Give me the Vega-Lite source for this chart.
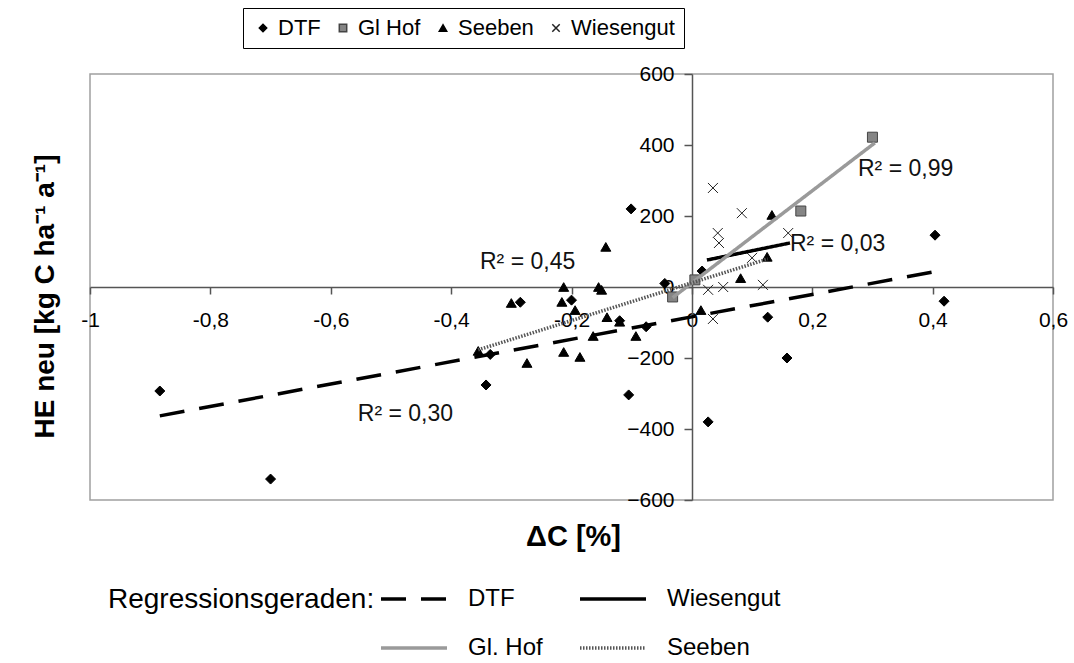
{
  "$schema": "https://vega.github.io/schema/vega-lite/v6.json",
  "width": 963,
  "height": 426,
  "autosize": {"type": "none"},
  "padding": {"left": 90, "top": 74, "right": 21, "bottom": 163},
  "background": "white",
  "config": {
    "font": "Liberation Sans",
    "view": {"stroke": "#a0a0a0", "strokeWidth": 1.5},
    "axis": {"grid": false}
  },
  "datasets": {
    "points": [
      {"x": -0.884, "y": -293, "s": "DTF"},
      {"x": -0.70, "y": -541, "s": "DTF"},
      {"x": -0.342, "y": -276, "s": "DTF"},
      {"x": -0.335, "y": -190, "s": "DTF"},
      {"x": -0.105, "y": -304, "s": "DTF"},
      {"x": 0.027, "y": -380, "s": "DTF"},
      {"x": 0.158, "y": -200, "s": "DTF"},
      {"x": 0.126, "y": -85, "s": "DTF"},
      {"x": 0.419, "y": -40, "s": "DTF"},
      {"x": 0.404, "y": 146, "s": "DTF"},
      {"x": -0.101, "y": 220, "s": "DTF"},
      {"x": 0.017, "y": 45, "s": "DTF"},
      {"x": -0.045, "y": 10, "s": "DTF"},
      {"x": -0.076, "y": -112, "s": "DTF"},
      {"x": -0.12, "y": -95, "s": "DTF"},
      {"x": -0.285, "y": -43, "s": "DTF"},
      {"x": -0.2, "y": -37, "s": "DTF"},
      {"x": 0.30, "y": 422, "s": "Gl Hof"},
      {"x": 0.181, "y": 214, "s": "Gl Hof"},
      {"x": -0.032, "y": -28, "s": "Gl Hof"},
      {"x": 0.005, "y": 20, "s": "Gl Hof"},
      {"x": -0.355, "y": -180, "s": "Seeben"},
      {"x": -0.30, "y": -45, "s": "Seeben"},
      {"x": -0.274, "y": -214, "s": "Seeben"},
      {"x": -0.213, "y": -183, "s": "Seeben"},
      {"x": -0.186, "y": -197, "s": "Seeben"},
      {"x": -0.164, "y": -138, "s": "Seeben"},
      {"x": -0.141, "y": -85, "s": "Seeben"},
      {"x": -0.12, "y": -98, "s": "Seeben"},
      {"x": -0.093, "y": -138, "s": "Seeben"},
      {"x": -0.213, "y": 0, "s": "Seeben"},
      {"x": -0.216, "y": -42, "s": "Seeben"},
      {"x": -0.194, "y": -65, "s": "Seeben"},
      {"x": -0.155, "y": 0, "s": "Seeben"},
      {"x": -0.15, "y": -8, "s": "Seeben"},
      {"x": -0.143, "y": 113, "s": "Seeben"},
      {"x": 0.133, "y": 203, "s": "Seeben"},
      {"x": 0.081, "y": 25, "s": "Seeben"},
      {"x": 0.015, "y": -65, "s": "Seeben"},
      {"x": 0.125, "y": 85, "s": "Seeben"},
      {"x": 0.035, "y": 279, "s": "Wiesengut"},
      {"x": 0.083, "y": 208, "s": "Wiesengut"},
      {"x": 0.043, "y": 152, "s": "Wiesengut"},
      {"x": 0.045, "y": 124, "s": "Wiesengut"},
      {"x": 0.16, "y": 152, "s": "Wiesengut"},
      {"x": 0.027, "y": -8, "s": "Wiesengut"},
      {"x": 0.052, "y": 0, "s": "Wiesengut"},
      {"x": 0.118, "y": 6, "s": "Wiesengut"},
      {"x": 0.035, "y": -90, "s": "Wiesengut"},
      {"x": 0.10, "y": 82, "s": "Wiesengut"}
    ],
    "lines": [
      {"x": -0.884, "y": -363, "reg": "DTF"},
      {"x": 0.409, "y": 45, "reg": "DTF"},
      {"x": 0.025, "y": 76, "reg": "Wiesengut"},
      {"x": 0.163, "y": 124, "reg": "Wiesengut"},
      {"x": -0.032, "y": -30, "reg": "Gl. Hof"},
      {"x": 0.304, "y": 406, "reg": "Gl. Hof"},
      {"x": -0.355, "y": -177, "reg": "Seeben"},
      {"x": 0.126, "y": 79, "reg": "Seeben"}
    ],
    "labels": [
      {"x": -0.352, "y": 70, "t": "R² = 0,45"},
      {"x": 0.276, "y": 332, "t": "R² = 0,99"},
      {"x": 0.163, "y": 121, "t": "R² = 0,03"},
      {"x": -0.555, "y": -358, "t": "R² = 0,30"}
    ]
  },
  "layer": [
    {
      "data": {"name": "points"},
      "mark": {"type": "point", "strokeWidth": 1, "opacity": 1, "size": 100},
      "encoding": {
        "x": {
          "field": "x", "type": "quantitative",
          "scale": {"domain": [-1, 0.6], "nice": false, "zero": false},
          "axis": {
            "title": "ΔC [%]",
            "offset": -213,
            "values": [-1, -0.8, -0.6, -0.4, -0.2, 0, 0.2, 0.4, 0.6],
            "labelExpr": "replace('' + datum.value, '.', ',')",
            "labelFontSize": 21, "labelColor": "#000",
            "labelPadding": 15, "labelFlush": false, "labelOverlap": false,
            "domainColor": "#555", "domainWidth": 1.5,
            "tickColor": "#555", "tickWidth": 1.5, "tickSize": 7,
            "titleFontSize": 29, "titleFontWeight": "bold", "titleColor": "#000",
            "titleX": 483, "titleY": 249, "titleBaseline": "middle", "titleAlign": "center"
          }
        },
        "y": {
          "field": "y", "type": "quantitative",
          "scale": {"domain": [-600, 600], "nice": false, "zero": false},
          "axis": {
            "title": "HE neu [kg C ha⁻¹ a⁻¹]",
            "offset": -602,
            "values": [-600, -400, -200, 0, 200, 400, 600],
            "labelFontSize": 21, "labelColor": "#000",
            "labelPadding": 10, "labelFlush": false, "labelOverlap": false,
            "domainColor": "#555", "domainWidth": 1.5,
            "tickColor": "#555", "tickWidth": 1.5, "tickSize": 8,
            "titleFontSize": 28, "titleFontWeight": "bold", "titleColor": "#000",
            "titleX": -647, "titleY": 222, "titleAngle": -90,
            "titleBaseline": "middle", "titleAlign": "center"
          }
        },
        "shape": {
          "field": "s", "type": "nominal",
          "scale": {"domain": ["DTF", "Gl Hof", "Seeben", "Wiesengut"], "range": ["diamond", "square", "triangle-up", "M-1,-1L1,1M-1,1L1,-1"]},
          "legend": {
            "orient": "none", "legendX": 153, "legendY": -66,
            "direction": "horizontal", "columns": 4, "title": null,
            "strokeColor": "#000", "fillColor": "white", "padding": 9,
            "labelFontSize": 22, "labelColor": "#000", "symbolSize": 55,
            "columnPadding": 11, "labelOffset": 4
          }
        },
        "fill": {
          "field": "s", "type": "nominal",
          "scale": {"domain": ["DTF", "Gl Hof", "Seeben", "Wiesengut"], "range": ["#000000", "#858585", "#000000", "transparent"]},
          "legend": {
            "orient": "none", "legendX": 153, "legendY": -66,
            "direction": "horizontal", "columns": 4, "title": null,
            "strokeColor": "#000", "fillColor": "white", "padding": 9,
            "labelFontSize": 22, "labelColor": "#000", "symbolSize": 55,
            "columnPadding": 11, "labelOffset": 4
          }
        },
        "stroke": {
          "field": "s", "type": "nominal",
          "scale": {"domain": ["DTF", "Gl Hof", "Seeben", "Wiesengut"], "range": ["#000000", "#444444", "#000000", "#222222"]},
          "legend": {
            "orient": "none", "legendX": 153, "legendY": -66,
            "direction": "horizontal", "columns": 4, "title": null,
            "strokeColor": "#000", "fillColor": "white", "padding": 9,
            "labelFontSize": 22, "labelColor": "#000", "symbolSize": 55,
            "columnPadding": 11, "labelOffset": 4
          }
        }
      }
    },
    {
      "data": {"name": "lines"},
      "mark": {"type": "line", "strokeWidth": 3.5},
      "encoding": {
        "x": {"field": "x", "type": "quantitative"},
        "y": {"field": "y", "type": "quantitative"},
        "color": {
          "field": "reg", "type": "nominal",
          "scale": {"domain": ["DTF", "Wiesengut", "Gl. Hof", "Seeben"], "range": ["#000000", "#000000", "#9a9a9a", "#555555"]},
          "legend": {
            "title": "Regressionsgeraden:", "orient": "none", "legendX": 18, "legendY": 512,
            "direction": "horizontal", "columns": 2, "titleOrient": "left",
            "titleAnchor": "start", "titleBaseline": "top",
            "titleFontSize": 28, "titleFontWeight": "normal", "titleColor": "#000", "titlePadding": 26,
            "titleLimit": 400, "labelLimit": 300,
            "labelFontSize": 24, "labelColor": "#000", "symbolType": "M-3,0L3,0",
            "symbolSize": 484, "symbolStrokeWidth": 3.5, "rowPadding": 24, "columnPadding": 30, "labelOffset": 41
          }
        },
        "strokeDash": {
          "field": "reg", "type": "nominal",
          "scale": {"domain": ["DTF", "Wiesengut", "Gl. Hof", "Seeben"], "range": [[25, 15], [1, 0], [1, 0], [1.5, 1.5]]},
          "legend": {
            "title": "Regressionsgeraden:", "orient": "none", "legendX": 18, "legendY": 512,
            "direction": "horizontal", "columns": 2, "titleOrient": "left",
            "titleAnchor": "start", "titleBaseline": "top",
            "titleFontSize": 28, "titleFontWeight": "normal", "titleColor": "#000", "titlePadding": 26,
            "titleLimit": 400, "labelLimit": 300,
            "labelFontSize": 24, "labelColor": "#000", "symbolType": "M-3,0L3,0",
            "symbolSize": 484, "symbolStrokeWidth": 3.5, "rowPadding": 24, "columnPadding": 30, "labelOffset": 41
          }
        }
      }
    },
    {
      "data": {"name": "labels"},
      "mark": {"type": "text", "align": "left", "baseline": "middle", "fontSize": 23, "color": "#111"},
      "encoding": {
        "x": {"field": "x", "type": "quantitative"},
        "y": {"field": "y", "type": "quantitative"},
        "text": {"field": "t", "type": "nominal"}
      }
    }
  ]
}
